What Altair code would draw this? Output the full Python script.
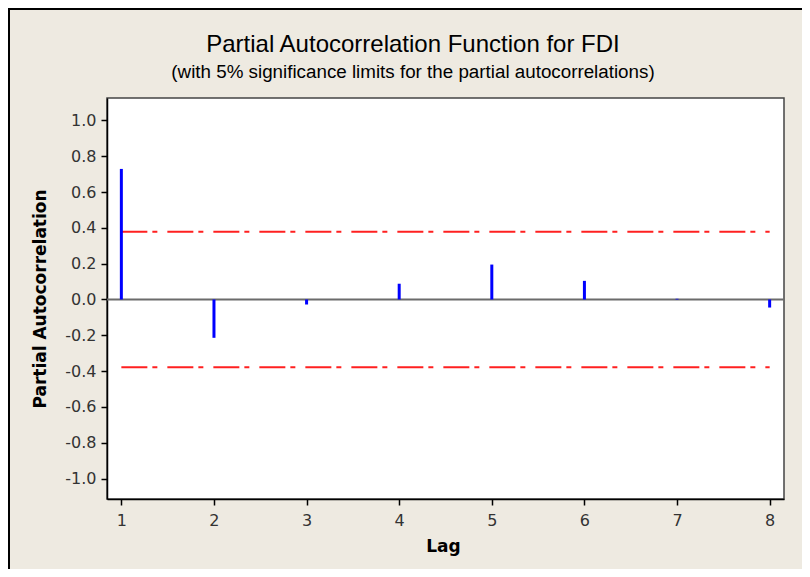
import altair as alt
import pandas as pd

# ---- data ----
lags = [1, 2, 3, 4, 5, 6, 7, 8]
pacf = [0.729, -0.214, -0.028, 0.088, 0.195, 0.104, 0.004, -0.045]
sig_limit = 0.378
y_ticks = [-1.0, -0.8, -0.6, -0.4, -0.2, 0.0, 0.2, 0.4, 0.6, 0.8, 1.0]
x_ticks = [1, 2, 3, 4, 5, 6, 7, 8]
title_text = "Partial Autocorrelation Function for FDI"
subtitle_text = "(with 5% significance limits for the partial autocorrelations)"
y_title = "Partial Autocorrelation"
x_title = "Lag"

W, H = 677, 401
PAD = {"left": 99, "top": 90, "right": 18, "bottom": 70}

bars_df = pd.DataFrame({"Lag": lags, "PACF": pacf})
lim_df = pd.DataFrame({"y": [sig_limit, -sig_limit], "x": [lags[0]] * 2, "x2": [lags[-1]] * 2})
zero_df = pd.DataFrame({"y": [0.0]})

xscale = alt.Scale(domain=[0.845, 8.155], nice=False, zero=False)
yscale = alt.Scale(domain=[-1.114, 1.125], nice=False, zero=False)

x_axis = alt.Axis(values=x_ticks, format="d", title=x_title, grid=False,
                  titleFont="DejaVu Sans", titleFontWeight="bold", titleFontSize=17,
                  titleColor="black", titleX=336, titleY=47, titleAlign="center",
                  titleBaseline="middle",
                  labelFont="DejaVu Sans", labelFontSize=16, labelColor="#333",
                  labelPadding=7, tickSize=6, tickColor="black", tickWidth=1.5,
                  domainColor="black", domainWidth=1.5)
y_axis = alt.Axis(values=y_ticks, title=y_title, grid=False,
                  labelExpr="datum.value < 0 ? '-' + format(abs(datum.value), '.1f') : format(datum.value, '.1f')",
                  titleFont="DejaVu Sans", titleFontWeight="bold", titleFontSize=17,
                  titleColor="black", titleX=-67, titleY=200.5, titleAngle=270,
                  titleAlign="center", titleBaseline="middle",
                  labelFont="DejaVu Sans", labelFontSize=16, labelColor="#333",
                  labelPadding=5, tickSize=6, tickColor="black", tickWidth=1.5,
                  domainColor="black", domainWidth=1.5)

zero_line = alt.Chart(zero_df).mark_rule(color="#6b6b6b", strokeWidth=2).encode(
    y=alt.Y("y:Q", scale=yscale, axis=y_axis)
)

limits = alt.Chart(lim_df).mark_rule(color="#ff2020", strokeWidth=2,
                                     strokeDash=[26, 5, 5, 10]).encode(
    x=alt.X("x:Q", scale=xscale, axis=x_axis),
    x2="x2:Q",
    y=alt.Y("y:Q", scale=yscale, axis=y_axis),
)

bars = alt.Chart(bars_df).mark_rule(color="#0000ff", strokeWidth=3).encode(
    x=alt.X("Lag:Q", scale=xscale, axis=x_axis),
    y=alt.Y("PACF:Q", scale=yscale, axis=y_axis),
    y2=alt.datum(0),
)

title = alt.Chart(pd.DataFrame({"t": [title_text]})).mark_text(
    font="Liberation Sans", fontSize=24, color="black", baseline="middle", align="center"
).encode(text="t:N", x=alt.value(306), y=alt.value(-53))

subtitle = alt.Chart(pd.DataFrame({"t": [subtitle_text]})).mark_text(
    font="Liberation Sans", fontSize=18.8, color="black", baseline="middle", align="center"
).encode(text="t:N", x=alt.value(306), y=alt.value(-26))

frame_top = alt.Chart(pd.DataFrame({"a": [0]})).mark_rule(color="black", strokeWidth=2).encode(
    x=alt.value(-99), x2=alt.value(W + 20), y=alt.value(-89)
)
frame_left = alt.Chart(pd.DataFrame({"a": [0]})).mark_rule(color="black", strokeWidth=2).encode(
    x=alt.value(-98), y=alt.value(-90), y2=alt.value(H + 70)
)

chart = alt.layer(zero_line, limits, bars, title, subtitle, frame_top, frame_left).properties(
    width=W, height=H, padding=PAD, autosize=alt.AutoSizeParams(type="none"),
    background="#EEEAE1",
).configure_view(fill="white", stroke="#444", strokeWidth=1.5)

chart.save("out.html", embed_options={"renderer": "svg", "actions": False})
